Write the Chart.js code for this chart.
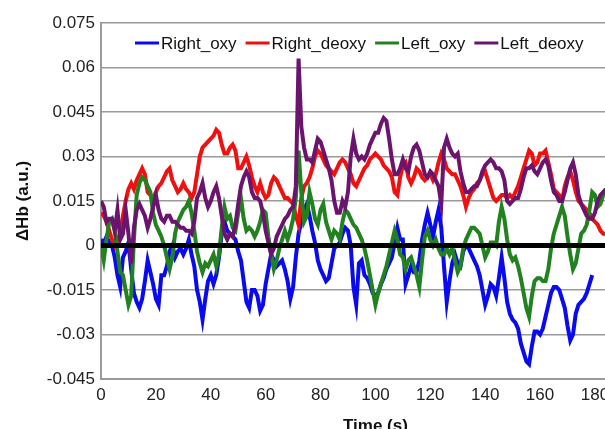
<!DOCTYPE html>
<html>
<head>
<meta charset="utf-8">
<script src="https://cdn.jsdelivr.net/npm/chart.js@4"></script>
<style>
  html, body { margin: 0; padding: 0; background: #fff; overflow: hidden; width: 605px; height: 429px; }
</style>
</head>
<body>
<canvas id="hbChart" width="670" height="440"></canvas>
<script>
// seconds, one sample per second
var timeStep = 1;

var rightOxy = [
  0.002, 0.001, 0.003, 0.001, 0.000, -0.004, -0.010, -0.014, -0.004, -0.002,
  0.001, -0.008, -0.016, -0.019, -0.021, -0.018, -0.012, -0.005, -0.009, -0.013,
  -0.018, -0.020, -0.010, -0.010, -0.007, -0.002, 0.000, -0.004, -0.002, -0.001,
  -0.003, -0.001, 0.002, -0.003, -0.007, -0.015, -0.019, -0.025, -0.018, -0.012,
  -0.010, -0.013, -0.010, -0.004, 0.004, 0.008, 0.005, 0.004, 0.003, 0.002,
  -0.002, -0.005, -0.012, -0.019, -0.021, -0.015, -0.015, -0.017, -0.022, -0.020,
  -0.013, -0.008, -0.003, -0.005, -0.007, -0.006, -0.005, -0.008, -0.012, -0.018,
  -0.014, -0.004, 0.004, 0.008, 0.012, 0.014, 0.010, 0.005, 0.001, -0.005,
  -0.008, -0.010, -0.012, -0.011, -0.006, -0.001, 0.000, 0.001, 0.004, 0.006,
  0.005, 0.000, -0.014, -0.020, -0.006, -0.005, -0.010, -0.011, -0.013, -0.016,
  -0.017, -0.016, -0.013, -0.011, -0.008, -0.006, -0.004, 0.001, 0.006, 0.002,
  0.002, -0.013, -0.010, -0.007, -0.009, -0.009, -0.005, 0.002, 0.007, 0.011,
  0.007, 0.003, 0.008, 0.012, 0.006, -0.007, -0.019, -0.012, -0.006, -0.003,
  -0.006, -0.007, -0.002, 0.000, -0.001, -0.003, -0.005, -0.007, -0.010, -0.015,
  -0.020, -0.017, -0.013, -0.014, -0.017, -0.011, -0.004, -0.011, -0.019, -0.023,
  -0.025, -0.026, -0.028, -0.033, -0.036, -0.039, -0.040, -0.034, -0.029, -0.029,
  -0.030, -0.028, -0.024, -0.020, -0.016, -0.014, -0.014, -0.015, -0.018, -0.021,
  -0.027, -0.032, -0.030, -0.023, -0.020, -0.019, -0.018, -0.016, -0.013, -0.010
];

var rightDeoxy = [
  0.011, 0.010, 0.008, 0.005, 0.002, 0.000, 0.002, 0.004, 0.010, 0.015,
  0.019, 0.021, 0.019, 0.022, 0.024, 0.026, 0.024, 0.018, 0.017, 0.016,
  0.018, 0.020, 0.021, 0.023, 0.025, 0.026, 0.022, 0.020, 0.018, 0.019,
  0.021, 0.019, 0.018, 0.016, 0.018, 0.024, 0.030, 0.033, 0.034, 0.035,
  0.036, 0.037, 0.039, 0.038, 0.034, 0.031, 0.031, 0.033, 0.034, 0.032,
  0.026, 0.026, 0.028, 0.030, 0.027, 0.023, 0.020, 0.018, 0.021, 0.018,
  0.016, 0.017, 0.021, 0.023, 0.022, 0.020, 0.018, 0.016, 0.016, 0.015,
  0.014, 0.010, 0.007, 0.016, 0.020, 0.021, 0.023, 0.026, 0.030, 0.032,
  0.031, 0.029, 0.027, 0.026, 0.025, 0.024, 0.026, 0.028, 0.029, 0.028,
  0.026, 0.024, 0.021, 0.020, 0.022, 0.024, 0.026, 0.027, 0.029, 0.030,
  0.031, 0.030, 0.029, 0.027, 0.026, 0.025, 0.023, 0.018, 0.017, 0.023,
  0.027, 0.028, 0.023, 0.021, 0.023, 0.026, 0.025, 0.023, 0.022, 0.023,
  0.024, 0.022, 0.024, 0.028, 0.031, 0.029, 0.026, 0.025, 0.024, 0.024,
  0.022, 0.020, 0.017, 0.013, 0.016, 0.018, 0.019, 0.021, 0.022, 0.024,
  0.025, 0.022, 0.019, 0.016, 0.015, 0.016, 0.017, 0.017, 0.016, 0.017,
  0.016, 0.018, 0.020, 0.023, 0.026, 0.029, 0.032, 0.031, 0.027, 0.028,
  0.031, 0.031, 0.032, 0.028, 0.024, 0.019, 0.018, 0.017, 0.015, 0.020,
  0.023, 0.025, 0.022, 0.018, 0.015, 0.014, 0.013, 0.012, 0.011, 0.009,
  0.008, 0.007, 0.005, 0.004, 0.004
];

var leftOxy = [
  0.000, -0.005, 0.002, 0.008, 0.009, 0.005, -0.002, -0.009, -0.010, -0.015,
  -0.020, -0.017, 0.002, 0.017, 0.021, 0.023, 0.022, 0.020, 0.018, 0.011,
  0.007, 0.005, 0.003, 0.000, -0.004, -0.008, -0.004, 0.004, 0.008, 0.010,
  0.012, 0.013, 0.015, 0.011, 0.005, -0.002, -0.006, -0.009, -0.006, -0.007,
  -0.005, -0.003, -0.007, -0.003, 0.006, 0.013, 0.009, 0.010, 0.006, 0.005,
  0.011, 0.016, 0.009, 0.005, 0.006, 0.005, 0.003, 0.005, 0.008, 0.012,
  0.011, 0.003, -0.003, -0.008, -0.005, -0.001, 0.002, 0.005, 0.002, 0.005,
  0.009, 0.016, 0.032, 0.018, 0.008, 0.010, 0.018, 0.014, 0.009, 0.007,
  0.012, 0.014, 0.008, 0.005, 0.002, 0.005, 0.004, 0.002, 0.008, 0.012,
  0.011, 0.009, 0.007, 0.006, 0.004, 0.002, -0.001, -0.005, -0.010, -0.015,
  -0.020, -0.016, -0.013, -0.010, -0.007, -0.003, 0.001, 0.005, 0.002, -0.003,
  -0.004, -0.008, -0.005, -0.004, -0.007, -0.010, -0.014, -0.005, 0.003, 0.005,
  0.002, 0.000, 0.002, -0.001, -0.003, -0.003, -0.001, -0.003, -0.001, -0.005,
  -0.009, -0.007, -0.001, 0.002, 0.004, 0.006, 0.006, 0.005, 0.004, 0.000,
  -0.004, -0.002, 0.001, 0.001, 0.000, 0.008, 0.013, 0.009, 0.002, -0.003,
  -0.005, -0.004, -0.007, -0.011, -0.016, -0.021, -0.024, -0.017, -0.012, -0.011,
  -0.011, -0.012, -0.012, -0.008, -0.001, 0.004, 0.007, 0.010, 0.013, 0.010,
  0.003, -0.003, -0.008, -0.006, -0.001, 0.004, 0.005, 0.007, 0.012, 0.018,
  0.017, 0.013, 0.014, 0.017, 0.018
];

var leftDeoxy = [
  0.015, 0.013, 0.008, 0.009, 0.009, 0.005, 0.012, 0.002, 0.004, 0.012,
  0.004, -0.006, 0.006, 0.012, 0.014, 0.012, 0.010, 0.006, 0.009, 0.013,
  0.017, 0.012, 0.009, 0.008, 0.010, 0.010, 0.008, 0.008, 0.007, 0.006,
  0.006, 0.005, 0.005, 0.004, 0.008, 0.016, 0.018, 0.021, 0.016, 0.013,
  0.015, 0.018, 0.020, 0.016, 0.010, 0.004, 0.002, 0.004, 0.003, 0.007,
  0.014, 0.020, 0.023, 0.025, 0.023, 0.018, 0.016, 0.016, 0.015, 0.011,
  0.005, 0.001, -0.003, -0.001, 0.003, 0.005, 0.007, 0.009, 0.010, 0.012,
  0.013, 0.020, 0.063, 0.040, 0.033, 0.029, 0.029, 0.028, 0.032, 0.036,
  0.035, 0.032, 0.029, 0.026, 0.022, 0.015, 0.011, 0.011, 0.015, 0.013,
  0.018, 0.030, 0.036, 0.031, 0.029, 0.030, 0.029, 0.031, 0.034, 0.036,
  0.038, 0.038, 0.041, 0.043, 0.042, 0.036, 0.029, 0.024, 0.024, 0.026,
  0.029, 0.026, 0.025, 0.030, 0.033, 0.034, 0.032, 0.028, 0.024, 0.023,
  0.025, 0.024, 0.022, 0.020, 0.014, 0.033, 0.036, 0.033, 0.031, 0.030,
  0.031, 0.025, 0.021, 0.018, 0.018, 0.019, 0.020, 0.020, 0.022, 0.025,
  0.027, 0.028, 0.029, 0.028, 0.026, 0.026, 0.025, 0.022, 0.015, 0.014,
  0.015, 0.016, 0.016, 0.019, 0.023, 0.026, 0.026, 0.027, 0.025, 0.024,
  0.026, 0.028, 0.029, 0.027, 0.022, 0.018, 0.017, 0.015, 0.015, 0.018,
  0.022, 0.026, 0.028, 0.024, 0.017, 0.014, 0.012, 0.010, 0.009, 0.009,
  0.011, 0.015, 0.017, 0.018, 0.019
];

var seriesNames = ['Right_oxy', 'Right_deoxy', 'Left_oxy', 'Left_deoxy'];
var seriesColors = ['#0a0af0', '#f01010', '#21821f', '#6b146e'];
var yTicks = [-0.045, -0.03, -0.015, 0, 0.015, 0.03, 0.045, 0.06, 0.075];
var xTicks = [0, 20, 40, 60, 80, 100, 120, 140, 160, 180, 200];

function toPoints(values) {
  return values.map(function (v, i) { return { x: i * timeStep, y: v }; });
}

var FONT = "'Liberation Sans', Arial, Helvetica, sans-serif";

// black zero line on top of the traces
var zeroLine = {
  id: 'zeroLine',
  afterDatasetsDraw: function (chart) {
    var ctx = chart.ctx, a = chart.chartArea;
    var y = chart.scales.y.getPixelForValue(0);
    ctx.save();
    ctx.strokeStyle = '#000';
    ctx.lineWidth = 5;
    ctx.beginPath();
    ctx.moveTo(a.left, y);
    ctx.lineTo(a.right, y);
    ctx.stroke();
    ctx.restore();
  }
};

// legend sits inside the plot, under the top gridline
var innerLegend = {
  id: 'innerLegend',
  afterDraw: function (chart) {
    var ctx = chart.ctx;
    var x = 135, y = 43;
    ctx.save();
    ctx.font = '17px ' + FONT;
    ctx.textBaseline = 'middle';
    ctx.fillStyle = '#111';
    seriesNames.forEach(function (name, i) {
      ctx.strokeStyle = seriesColors[i];
      ctx.lineWidth = 3;
      ctx.beginPath();
      ctx.moveTo(x, y);
      ctx.lineTo(x + 24, y);
      ctx.stroke();
      ctx.fillText(name, x + 26, y + 1);
      x += 26 + ctx.measureText(name).width + 9;
    });
    ctx.restore();
  }
};

var lists = [rightOxy, rightDeoxy, leftOxy, leftDeoxy];
var datasets = lists.map(function (values, i) {
  return {
    label: seriesNames[i],
    data: toPoints(values),
    borderColor: seriesColors[i],
    backgroundColor: seriesColors[i],
    borderWidth: 4,
    pointRadius: 0,
    tension: 0,
    order: 3 - i
  };
});

var ctx = document.getElementById('hbChart').getContext('2d');
new Chart(ctx, {
  type: 'line',
  data: { datasets: datasets },
  plugins: [zeroLine, innerLegend],
  options: {
    responsive: false,
    animation: false,
    devicePixelRatio: 1,
    layout: { padding: { left: 0, top: 23, right: 20, bottom: 0 } },
    plugins: { legend: { display: false }, tooltip: { enabled: false } },
    scales: {
      x: {
        type: 'linear',
        min: 0,
        max: 200,
        afterBuildTicks: function (s) { s.ticks = xTicks.map(function (v) { return { value: v }; }); },
        afterFit: function (s) { s.height = 61; },
        grid: { display: false, drawTicks: false },
        border: { display: true, color: '#9a9a9a', width: 2 },
        ticks: { color: '#222', font: { family: FONT, size: 17 }, padding: 6, maxRotation: 0 },
        title: { display: true, text: 'Time (s)', color: '#111', font: { family: FONT, size: 17, weight: 'bold' }, padding: { top: 0, bottom: 3 } }
      },
      y: {
        min: -0.045,
        max: 0.075,
        afterBuildTicks: function (s) { s.ticks = yTicks.map(function (v) { return { value: v }; }); },
        afterFit: function (s) { s.width = 101; },
        grid: { color: '#9a9a9a', lineWidth: 1.5, drawTicks: false },
        border: { display: true, color: '#9a9a9a', width: 2 },
        ticks: {
          color: '#222',
          font: { family: FONT, size: 17 },
          padding: 6,
          callback: function (v) { return String(v); }
        },
        title: { display: true, text: 'ΔHb (a.u.)', color: '#111', font: { family: FONT, size: 17, weight: 'bold' }, padding: { top: 13, bottom: 0 } }
      }
    }
  }
});
</script>
</body>
</html>
